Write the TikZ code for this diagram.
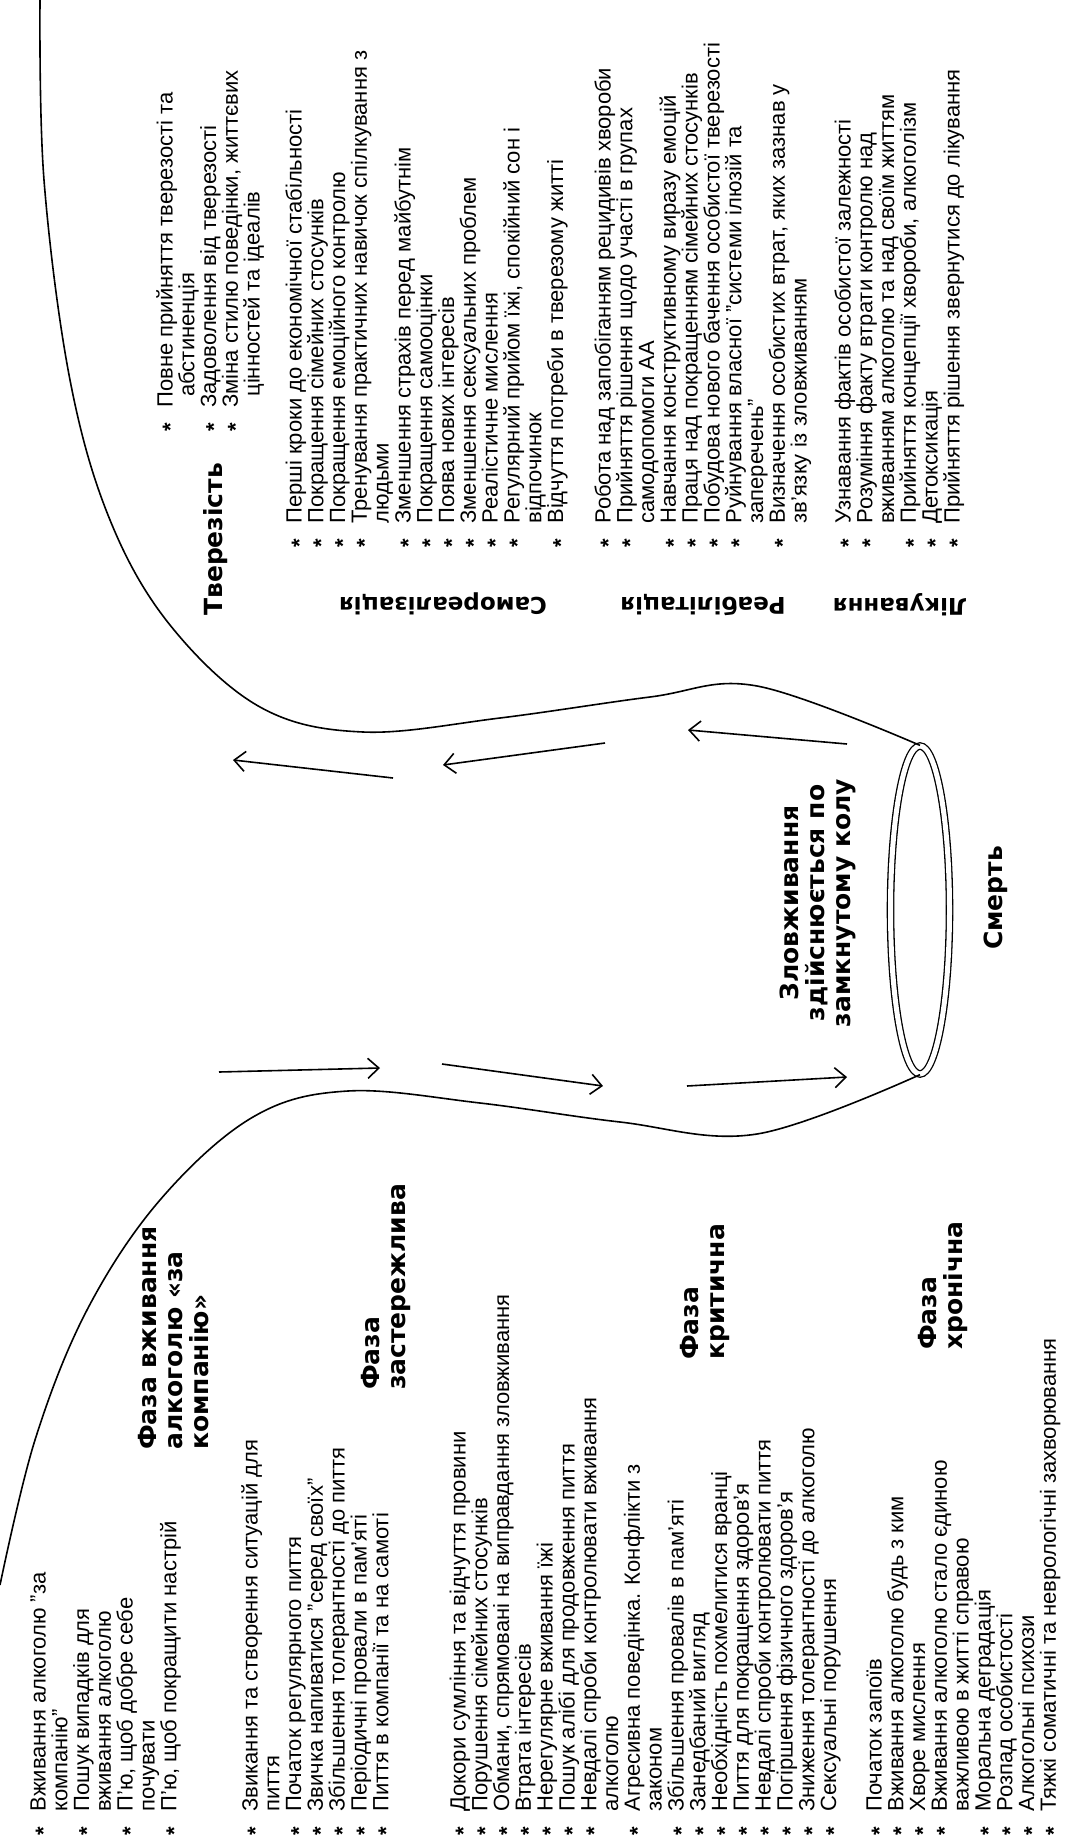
\documentclass[tikz,border=0pt]{standalone}
\usepackage{fontspec}
\setmainfont{Liberation Sans}
\newfontfamily\hdrfont{DejaVu Sans}
\usetikzlibrary{arrows.meta,shapes.geometric}
\newcommand\bul{\makebox[1.1em][l]{\raisebox{-.24em}{\bfseries *}}}
\newcommand\ind{\hspace*{1.1em}}

\begin{document}
\begin{tikzpicture}[x=1pt,y=-1pt,
    wall/.style={line width=1.6pt},
    arr/.style={line width=1.6pt,-{Straight Barb[length=11pt,width=20pt]}},
    lst/.style={rotate=90,anchor=west,inner sep=0,font=\fontsize{22}{22}\selectfont,text height=16pt,text depth=5pt},
    hdr/.style={rotate=90,inner sep=0,align=left,font=\hdrfont\bfseries\fontsize{25}{26}\selectfont},
    ttl/.style={rotate=180,inner sep=0,font=\hdrfont\bfseries\fontsize{23}{24}\selectfont}]
\fill[white] (0,0) rectangle (1065,1843);
\useasboundingbox (0,0) rectangle (1065,1843);

% phases of drinking
\foreach \itm [count=\i from 0] in {{\bul Вживання алкоголю "за},{\ind компанію"},{\bul Пошук випадків для},{\ind вживання алкоголю},{\bul П'ю, щоб добре себе},{\ind почувати},{\bul П'ю, щоб покращити настрій}}
    \node[lst] (a\i) at ({40+21.8*\i},1836) {\itm};
\foreach \itm [count=\i from 0] in {{\bul Звикання та створення ситуацій для},{\ind пиття},{\bul Початок регулярного пиття},{\bul Звичка напиватися "серед своїх"},{\bul Збільшення толерантності до пиття},{\bul Періодичні провали в пам'яті},{\bul Пиття в компанії та на самоті}}
    \node[lst] (b\i) at ({252+21.8*\i},1836) {\itm};
\foreach \itm [count=\i from 0] in {{\bul Докори сумління та відчуття провини},{\bul Порушення сімейних стосунків},{\bul Обмани, спрямовані на виправдання зловживання},{\bul Втрата інтересів},{\bul Нерегулярне вживання їжі},{\bul Пошук алібі для продовження пиття},{\bul Невдалі спроби контролювати вживання},{\ind алкоголю},{\bul Агресивна поведінка. Конфлікти з},{\ind законом},{\bul Збільшення провалів в пам'яті},{\bul Занедбаний вигляд},{\bul Необхідність похмелитися вранці},{\bul Пиття для покращення здоров'я},{\bul Невдалі спроби контролювати пиття},{\bul Погіршення фізичного здоров'я},{\bul Зниження толерантності до алкоголю},{\bul Сексуальні порушення}}
    \node[lst] (c\i) at ({460+21.8*\i},1836) {\itm};
\foreach \itm [count=\i from 0] in {{\bul Початок запоїв},{\bul Вживання алкоголю будь з ким},{\bul Хворе мислення},{\bul Вживання алкоголю стало єдиною},{\ind важливою в житті справою},{\bul Моральна деградація},{\bul Розпад особистості},{\bul Алкогольні психози},{\bul Тяжкі соматичні та неврологічні захворювання}}
    \node[lst] (d\i) at ({876+21.8*\i},1836) {\itm};

\node[hdr,anchor=north west] (hA) at (138,1450) {Фаза вживання\\алкоголю «за\\компанію»};
\node[hdr,anchor=north west] (hB) at (361,1390) {Фаза\\застережлива};
\node[hdr,anchor=north west] (hC) at (680,1360) {Фаза\\критична};
\node[hdr,anchor=north west] (hD) at (918,1350) {Фаза\\хронічна};

% recovery
\foreach \itm [count=\i from 0] in {{\bul Повне прийняття тверезості та},{\hspace*{1.6em}абстиненція},{\bul Задоволення від тверезості},{\bul Зміна стилю поведінки, життєвих},{\hspace*{1.6em}цінностей та ідеалів}}
    \node[lst] (t\i) at ({167+21.8*\i},432) {\itm};
\foreach \itm [count=\i from 0] in {{\bul Перші кроки до економічної стабільності},{\bul Покращення сімейних стосунків},{\bul Покращення емоційного контролю},{\bul Тренування практичних навичок спілкування з},{\ind людьми},{\bul Зменшення страхів перед майбутнім},{\bul Покращення самооцінки},{\bul Поява нових інтересів},{\bul Зменшення сексуальних проблем},{\bul Реалістичне мислення},{\bul Регулярний прийом їжі, спокійний сон і},{\ind відпочинок},{\bul Відчуття потреби в тверезому житті}}
    \node[lst] (s\i) at ({296+21.8*\i},548) {\itm};
\foreach \itm [count=\i from 0] in {{\bul Робота над запобіганням рецидивів хвороби},{\bul Прийняття рішення щодо участі в групах},{\ind самодопомоги АА},{\bul Навчання конструктивному виразу емоцій},{\bul Праця над покращенням сімейних стосунків},{\bul Побудова нового бачення особистої тверезості},{\bul Руйнування власної "системи ілюзій та},{\ind заперечень"},{\bul Визначення особистих втрат, яких зазнав у},{\ind зв'язку із зловживанням}}
    \node[lst] (r\i) at ({605+21.8*\i},548) {\itm};
\foreach \itm [count=\i from 0] in {{\bul Узнавання фактів особистої залежності},{\bul Розуміння факту втрати контролю над},{\ind вживанням алкоголю та над своїм життям},{\bul Прийняття концепції хвороби, алкоголізм},{\bul Детоксикація},{\bul Прийняття рішення звернутися до лікування}}
    \node[lst] (l\i) at ({845+21.8*\i},548) {\itm};

\node[hdr,anchor=west] (sob) at (216,616) {Тверезість};
\node[ttl] (selfr) at (443,604) {Самореалізація};
\node[ttl] (rehab) at (703,605) {Реабілітація};
\node[ttl] (treat) at (900,605) {Лікування};

% the loop
\node[draw,ellipse,double,double distance=5pt,line width=1.3pt,minimum width=59pt,minimum height=328pt,inner sep=0] (ring) at (920,910) {};
\node[hdr,align=center] (loop) at (818,903) {Зловживання\\здійснюється по\\замкнутому колу};
\node[hdr] (death) at (996,898) {Смерть};

\draw[wall] plot[smooth,tension=.6] coordinates {(40,0) (44,180) (70,380) (110,520) (170,625) (260,707) (363,732) (500,718) (650,697) (757,686) (ring.north)};
\draw[wall] plot[smooth,tension=.6] coordinates {(0,1585) (35,1440) (87,1310) (160,1200) (253,1117) (348,1091) (480,1103) (620,1122) (757,1134) (ring.south)};

\coordinate (u1) at (393,778); \coordinate (v1) at (233,760);
\coordinate (u2) at (605,743); \coordinate (v2) at (443,765);
\coordinate (u3) at (847,744); \coordinate (v3) at (688,730);
\coordinate (p1) at (219,1072); \coordinate (q1) at (380,1068);
\coordinate (p2) at (442,1064); \coordinate (q2) at (603,1086);
\coordinate (p3) at (687,1086); \coordinate (q3) at (847,1077);
\foreach \s/\e in {u1/v1,u2/v2,u3/v3,p1/q1,p2/q2,p3/q3}
    \draw[arr] (\s) -- (\e);
\end{tikzpicture}
\end{document}
